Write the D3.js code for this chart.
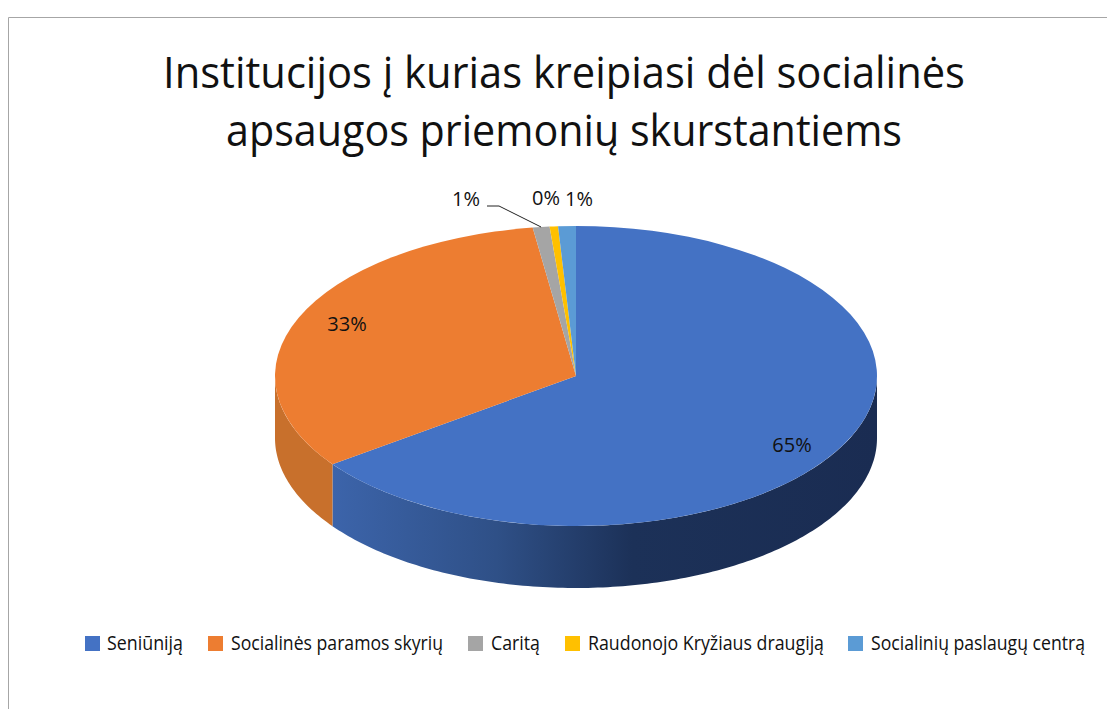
<!DOCTYPE html>
<html><head><meta charset="utf-8">
<script src="https://cdn.jsdelivr.net/npm/d3@7"></script>
<style>html,body{margin:0;padding:0;background:#fff}svg{display:block}text{font-family:"Open Sans",sans-serif;fill:#111}</style>
</head><body><svg id="c" width="1107" height="709"></svg>
<script>
const titleLines = ["Institucijos į kurias kreipiasi dėl socialinės", "apsaugos priemonių skurstantiems"];
const categories = ["Seniūniją", "Socialinės paramos skyrių", "Caritą", "Raudonojo Kryžiaus draugiją", "Socialinių paslaugų centrą"];
const values = [65, 32.7, 0.9, 0.45, 0.95];
const colors = ["#4472c4", "#ed7d31", "#a5a5a5", "#ffc000", "#5b9bd5"];

const W = 1107, H = 709, cx = 576, cy = 376, rx = 301, ry = 150, depth = 62;
const svg = d3.select("#c");
const defs = svg.append("defs");
const g1 = defs.append("linearGradient").attr("id","blueWall").attr("gradientUnits","userSpaceOnUse")
  .attr("x1",333).attr("x2",877).attr("y1",0).attr("y2",0);
[[0,"#3c64aa"],[0.3,"#2f5087"],[0.55,"#1c3158"],[1,"#1a2c52"]].forEach(s=>g1.append("stop").attr("offset",s[0]).attr("stop-color",s[1]));

// frame
svg.append("path").attr("d",`M8.5 ${H} V17.5 H${W}`).attr("fill","none").attr("stroke","#a6a6a6").attr("stroke-width",1);

// title
const tpos = [[564,88,802],[564,146,676]];
svg.selectAll("text.title").data(titleLines).join("text").attr("class","title")
  .attr("x",(d,i)=>tpos[i][0]).attr("y",(d,i)=>tpos[i][1]).attr("text-anchor","middle")
  .attr("font-size",44).attr("textLength",(d,i)=>tpos[i][2]).attr("lengthAdjust","spacingAndGlyphs").text(d=>d);

// pie
const total = d3.sum(values);
const pie = d3.pie().sort(null).value(d=>d)(values);
const X = a => cx + rx*Math.sin(a), Y = a => cy - ry*Math.cos(a);
const line = d3.line();
function wall(a0,a1){
  const n = Math.max(2,Math.ceil((a1-a0)*60));
  const as = d3.range(n+1).map(i=>a0+(a1-a0)*i/n);
  const top = as.map(a=>[X(a),Y(a)]);
  const bot = as.slice().reverse().map(a=>[X(a),Y(a)+depth]);
  return line(top.concat(bot))+"Z";
}
const gp = svg.append("g");
// walls: only the front half (90°..270°)
const sideFill = ["url(#blueWall)","#c8702c"];
pie.forEach((p,i)=>{
  const a0=Math.max(p.startAngle,Math.PI/2), a1=Math.min(p.endAngle,3*Math.PI/2);
  if(a1>a0) gp.append("path").attr("d",wall(a0,a1)).attr("fill",sideFill[i]);
});
const arc = d3.arc().innerRadius(0).outerRadius(rx);
gp.append("g").attr("transform",`translate(${cx},${cy}) scale(1,${ry/rx})`)
  .selectAll("path").data(pie).join("path").attr("d",arc).attr("fill",(d,i)=>colors[i]);

// labels
const lab = [[792,452],[347,331],[466,206],[546,205],[579,206]];
svg.selectAll("text.lab").data(values).join("text").attr("class","lab")
  .attr("x",(d,i)=>lab[i][0]).attr("y",(d,i)=>lab[i][1]).attr("text-anchor","middle")
  .attr("font-size",20).text(d=>Math.round(d/total*100)+"%");
// leader line for Caritą
const gm = (pie[2].startAngle+pie[2].endAngle)/2;
svg.append("path").attr("d",line([[487,206],[499,206],[X(gm),Y(gm)]])).attr("fill","none").attr("stroke","#222").attr("stroke-width",1);

// legend
const leg = [[85,107,183,76],[208,231,443,212],[468,491,540,49],[565,588,824,236],[848,871,1085,214]];
const lg = svg.selectAll("g.leg").data(categories).join("g").attr("class","leg");
lg.append("rect").attr("x",(d,i)=>leg[i][0]).attr("y",636).attr("width",15).attr("height",15).attr("fill",(d,i)=>colors[i]);
lg.append("text").attr("x",(d,i)=>leg[i][1]).attr("y",650).attr("font-size",20)
  .attr("textLength",(d,i)=>leg[i][3]).attr("lengthAdjust","spacingAndGlyphs").text(d=>d);
</script></body></html>
